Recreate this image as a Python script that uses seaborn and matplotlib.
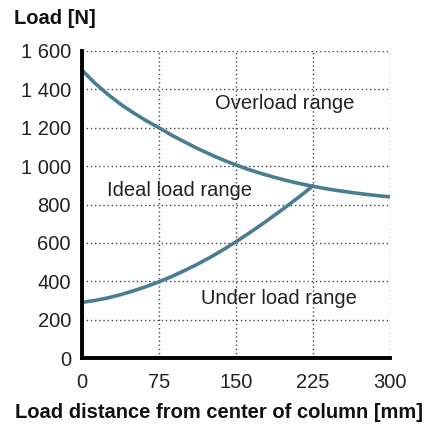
import matplotlib
matplotlib.use("Agg")
import matplotlib.pyplot as plt
import seaborn as sns
import pandas as pd
from matplotlib.ticker import FuncFormatter

# data
upper_x = [0, 12.5, 25, 37.5, 50, 62.5, 75, 87.5, 100, 112.5, 125, 137.5, 150,
           162.5, 175, 187.5, 200, 212.5, 225, 237.5, 250, 262.5, 275, 287.5, 300]
upper_y = [1500, 1433, 1375, 1323, 1278, 1237, 1200, 1161, 1126, 1092, 1061, 1032, 1006,
           982, 961, 941.5, 924, 908.5, 895, 882.5, 872, 862.5, 854, 846.5, 840]
lower_x = [0, 12.5, 25, 37.5, 50, 62.5, 75, 87.5, 100, 112.5, 125, 137.5, 150,
           162.5, 175, 187.5, 200, 212.5, 225]
lower_y = [290, 300, 313, 330, 350, 372, 397, 425, 456, 489, 525, 564, 606,
           650, 696, 744, 793, 844, 897]
x_ticks = [0, 75, 150, 225, 300]
y_ticks = [0, 200, 400, 600, 800, 1000, 1200, 1400, 1600]
region_labels = ["Overload range", "Ideal load range", "Under load range"]
region_x = [197, 95, 192]
region_y = [1324, 875, 312]

sns.set_theme(style="white")
plt.rcParams['font.family'] = ['Liberation Sans', 'DejaVu Sans']

fig = plt.figure(figsize=(4.35, 4.30), dpi=100)
ax = fig.add_axes([0.1885, 0.1674, 0.708, 0.714])

color = "#4a7d92"
df_u = pd.DataFrame({"x": upper_x, "y": upper_y})
df_l = pd.DataFrame({"x": lower_x, "y": lower_y})
sns.lineplot(data=df_u, x="x", y="y", ax=ax, color=color, lw=2.6)
sns.lineplot(data=df_l, x="x", y="y", ax=ax, color=color, lw=2.6)

ax.set_xlim(0, 300)
ax.set_ylim(0, 1600)
ax.set_xticks(x_ticks)
ax.set_yticks(y_ticks)
ax.yaxis.set_major_formatter(FuncFormatter(lambda v, p: f"{int(v):,}".replace(",", " ")))
ax.grid(True, linestyle=(0, (1, 2)), color="#444444", lw=1.0)
for s in ["top", "right"]:
    ax.spines[s].set_visible(False)
for s in ["left", "bottom"]:
    ax.spines[s].set_color("black")
    ax.spines[s].set_linewidth(2.8)
ax.tick_params(axis="both", labelsize=14.5, colors="#222222", length=0)
ax.tick_params(axis="x", pad=11)
ax.tick_params(axis="y", pad=8)
ax.set_xlabel("")
ax.set_ylabel("")

for t, xx, yy in zip(region_labels, region_x, region_y):
    ax.text(xx, yy, t, ha="center", va="center", fontsize=14.5, color="#222222")

fig.text(14/435, 1-18/430, "Load [N]", fontsize=14.5, fontweight="bold", ha="left", va="center", color="#111111")
fig.text(219/435, 1-412/430, "Load distance from center of column [mm]", fontsize=14.5, fontweight="bold", ha="center", va="center", color="#111111")

fig.savefig("out.png", dpi=100)
